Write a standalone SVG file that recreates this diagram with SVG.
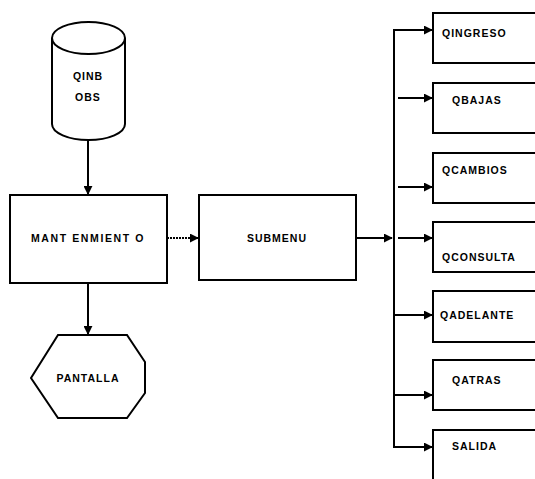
<svg xmlns="http://www.w3.org/2000/svg" width="535" height="479" viewBox="0 0 535 479">
<style>
.s{fill:#fff;stroke:#000;stroke-width:2}
.l{fill:none;stroke:#000;stroke-width:2}
text{font-family:"Liberation Sans",Arial,sans-serif;font-weight:bold;font-size:10.5px;fill:#000;letter-spacing:1px}
.c{text-anchor:middle}
</style>
<defs>
<marker id="ah" viewBox="0 0 10 10" refX="9" refY="5" markerWidth="4.5" markerHeight="4.5" orient="auto" markerUnits="strokeWidth">
<path d="M0,0 L10,5 L0,10 z" fill="#000"/>
</marker>
</defs>
<g id="connectors">
<line class="l" x1="88" y1="140" x2="88" y2="194" marker-end="url(#ah)"/>
<line class="l" x1="88" y1="283" x2="88" y2="334" marker-end="url(#ah)"/>
<line class="l" x1="167" y1="238" x2="198" y2="238" stroke-dasharray="2 1" marker-end="url(#ah)"/>
<line class="l" x1="356" y1="238" x2="392" y2="238" marker-end="url(#ah)"/>
<line class="l" x1="394" y1="29" x2="394" y2="448"/>
<line class="l" x1="393" y1="30" x2="432" y2="30" marker-end="url(#ah)"/>
<line class="l" x1="398" y1="98" x2="432" y2="98" marker-end="url(#ah)"/>
<line class="l" x1="398" y1="187" x2="432" y2="187" marker-end="url(#ah)"/>
<line class="l" x1="398" y1="238" x2="432" y2="238" marker-end="url(#ah)"/>
<line class="l" x1="393" y1="315" x2="432" y2="315" marker-end="url(#ah)"/>
<line class="l" x1="393" y1="395" x2="432" y2="395" marker-end="url(#ah)"/>
<line class="l" x1="393" y1="447" x2="432" y2="447" marker-end="url(#ah)"/>
</g>
<g id="qinbobs">
<path class="s" d="M52,38 L52,124 A36.5,16 0 0 0 125,124 L125,38"/>
<ellipse class="s" cx="88.5" cy="38" rx="36.5" ry="16"/>
<text class="c" x="88" y="80">QINB</text>
<text class="c" x="88" y="101">OBS</text>
</g>
<g id="mantenimiento">
<rect class="s" x="10" y="195" width="157" height="88"/>
<text class="c" x="88" y="242" style="letter-spacing:1.6px">MANT ENMIENT O</text>
</g>
<g id="submenu">
<rect class="s" x="199" y="195" width="157" height="85"/>
<text class="c" x="277" y="242">SUBMENU</text>
</g>
<g id="pantalla">
<polygon class="s" points="58,335 127,335 145,362 145,393 127,418 58,418 31,378"/>
<text class="c" x="88" y="382">PANTALLA</text>
</g>
<g id="qingreso">
<rect class="s" x="433" y="13" width="110" height="50"/>
<text x="442" y="37">QINGRESO</text>
</g>
<g id="qbajas">
<rect class="s" x="433" y="83" width="110" height="50"/>
<text x="452" y="104">QBAJAS</text>
</g>
<g id="qcambios">
<rect class="s" x="433" y="153" width="110" height="50"/>
<text x="442" y="174">QCAMBIOS</text>
</g>
<g id="qconsulta">
<rect class="s" x="433" y="222" width="110" height="50"/>
<text x="442" y="261">QCONSULTA</text>
</g>
<g id="qadelante">
<rect class="s" x="433" y="291" width="110" height="51"/>
<text x="440" y="319">QADELANTE</text>
</g>
<g id="qatras">
<rect class="s" x="433" y="360" width="110" height="50"/>
<text x="452" y="384">QATRAS</text>
</g>
<g id="salida">
<path class="l" d="M433,480 L433,430 L540,430"/>
<text x="452" y="450">SALIDA</text>
</g>
</svg>
